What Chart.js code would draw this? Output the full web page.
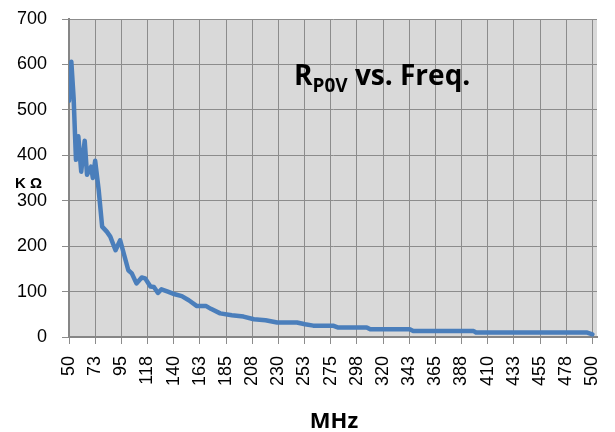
<!DOCTYPE html>
<html>
<head>
<meta charset="utf-8">
<script src="https://cdn.jsdelivr.net/npm/chart.js@4"></script>
<style>
  html, body { margin: 0; padding: 0; background: #ffffff; }
  #wrap { width: 615px; height: 432px; }
</style>
</head>
<body>
<div id="wrap"><canvas id="rpov-chart" width="615" height="432"></canvas></div>
<script>
// frequency (MHz) and R_P0V (kOhm)
const freqMHz = [50, 52, 54, 56, 58, 60.5, 63.5, 65.5, 69, 70.5, 72.5, 75.5, 78.5, 82.5, 85.5, 90, 94, 101, 104, 108,
  112.5, 115.5, 120, 123, 126.5, 129.5, 135, 141, 147, 153, 160, 168, 172, 180, 190, 200, 209, 219, 229, 246,
  253, 260, 277, 281, 306, 309, 343, 346, 398, 400, 495, 500];
const rpovKOhm = [520, 606, 525, 390, 442, 364, 432, 357, 375, 350, 388, 324, 243, 232, 221, 191, 213, 147, 140, 118,
  131, 129, 111, 110, 97, 105, 100, 94, 90, 81, 68, 68, 62, 52, 48, 45, 39, 37, 32, 32,
  28, 25, 25, 21, 21, 17, 17, 13, 13, 10, 10, 6];

const xTickLabels = ['50', '73', '95', '118', '140', '163', '185', '208', '230', '253', '275',
  '298', '320', '343', '365', '388', '410', '433', '455', '478', '500'];
const xTickValues = [50, 72.5, 95, 117.5, 140, 162.5, 185, 207.5, 230, 252.5, 275,
  297.5, 320, 342.5, 365, 387.5, 410, 432.5, 455, 477.5, 500];

Chart.defaults.font.family = "'Liberation Sans', Arial, sans-serif";
Chart.defaults.color = '#000000';

// grey plot area behind the grid
const plotBackground = {
  id: 'plotBackground',
  beforeDraw(chart) {
    const { ctx, chartArea: a } = chart;
    ctx.save();
    ctx.fillStyle = '#d9d9d9';
    ctx.fillRect(a.left, a.top, a.right - a.left, a.bottom - a.top);
    ctx.restore();
  }
};

// title inside the plot, horizontal y title and x title
const chartTexts = {
  id: 'chartTexts',
  afterDraw(chart) {
    const ctx = chart.ctx;
    ctx.save();
    ctx.fillStyle = '#000000';
    ctx.textBaseline = 'alphabetic';
    ctx.textAlign = 'left';

    let x = 294;
    ctx.font = "bold 28px 'Open Sans'";
    ctx.fillText('R', x, 85);
    x += ctx.measureText('R').width;
    ctx.font = "bold 19px 'Open Sans'";
    ctx.fillText('P0V', x, 92);
    x += ctx.measureText('P0V').width;
    ctx.font = "bold 28px 'Open Sans'";
    ctx.fillText(' vs. Freq.', x, 85);

    ctx.font = "bold 15px 'Liberation Sans'";
    ctx.fillText('K Ω', 15, 188);

    ctx.font = "bold 22px 'Open Sans'";
    ctx.textAlign = 'center';
    ctx.fillText('MHz', 334, 428);
    ctx.restore();
  }
};

new Chart(document.getElementById('rpov-chart'), {
  type: 'line',
  data: {
    datasets: [{
      data: freqMHz.map((f, i) => ({ x: f, y: rpovKOhm[i] })),
      borderColor: '#4a7ebb',
      borderWidth: 4.5,
      pointRadius: 0,
      tension: 0,
      fill: false,
      borderJoinStyle: 'round',
      borderCapStyle: 'round'
    }]
  },
  options: {
    responsive: false,
    animation: false,
    layout: { padding: { top: 19, right: 18, left: 0, bottom: 0 } },
    plugins: {
      legend: { display: false },
      tooltip: { enabled: false }
    },
    scales: {
      x: {
        type: 'linear',
        min: 50,
        max: 504,
        afterBuildTicks(scale) {
          scale.ticks = xTickValues.map(v => ({ value: v }));
        },
        afterFit(scale) {
          scale.height = 95;
          scale.paddingLeft = 0;
          scale.paddingRight = 0;
        },
        ticks: {
          minRotation: 90,
          maxRotation: 90,
          autoSkip: false,
          padding: 12,
          font: { size: 18 },
          callback: (v, i) => xTickLabels[i]
        },
        grid: { color: '#8c8c8c', lineWidth: 1, tickLength: 7 },
        border: { color: '#868686', width: 2 }
      },
      y: {
        min: 0,
        max: 700,
        afterFit(scale) {
          scale.width = 69;
          scale.paddingTop = 0;
          scale.paddingBottom = 0;
        },
        ticks: { stepSize: 100, padding: 15, font: { size: 18 } },
        grid: { color: '#8c8c8c', lineWidth: 1, tickLength: 7 },
        border: { color: '#868686', width: 2 }
      }
    }
  },
  plugins: [plotBackground, chartTexts]
});
</script>
</body>
</html>
